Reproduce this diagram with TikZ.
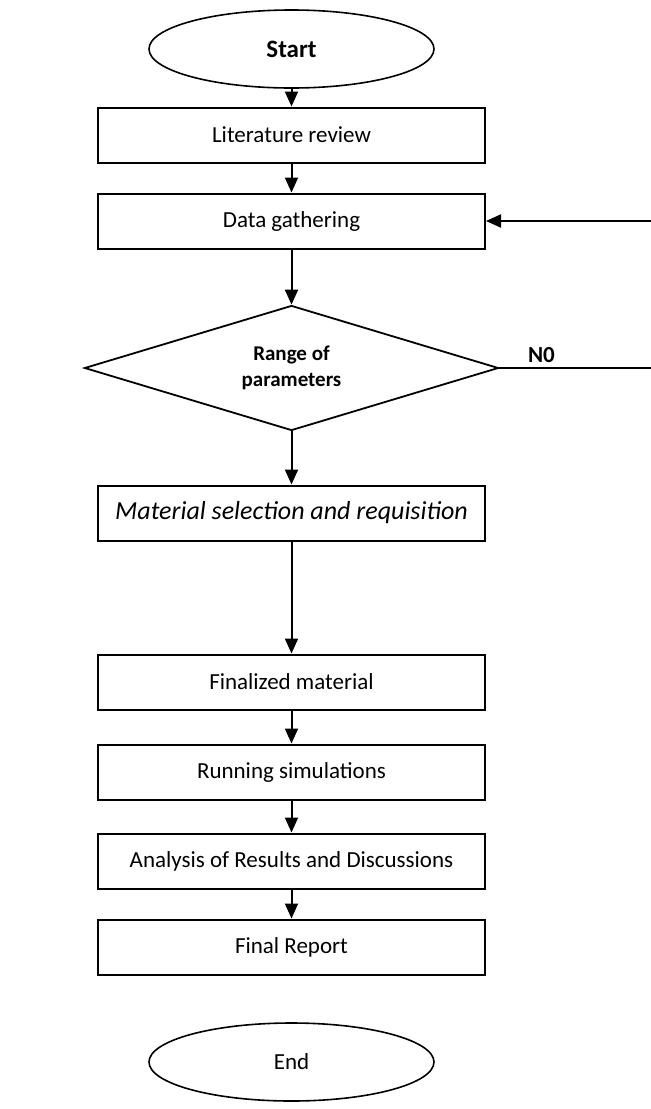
\documentclass[tikz,border=0pt]{standalone}
\usepackage{fontspec}
\setmainfont{Carlito}
\usetikzlibrary{positioning,shapes.geometric,arrows.meta}
\tikzstyle{startstop} = [ellipse, minimum width=142.5pt, minimum height=39pt, text centered, draw=black, line width=0.8pt, font=\fontsize{11.5}{13}\selectfont]
\tikzstyle{process} = [rectangle, minimum width=193.5pt, minimum height=27.5pt, text centered, draw=black, line width=1pt, font=\fontsize{11.5}{13}\selectfont]
\tikzstyle{decision} = [diamond, aspect=3.3, minimum width=207pt, minimum height=62.5pt, inner sep=0pt, align=center, draw=black, line width=0.9pt, font=\bfseries\fontsize{10.5}{13}\selectfont]
\tikzstyle{arrow} = [line width=1pt,-{Triangle[width=6.5pt,length=7.5pt]}]

\begin{document}
\begin{tikzpicture}[node distance=43pt]
\useasboundingbox (0,0) rectangle (325.5pt,-554.5pt);
\node (start) [startstop, font=\bfseries\fontsize{12.5}{13}\selectfont] at (145.75pt,-24.5pt) {Start};
\node (lit) [process, below of=start] {Literature review};
\draw [arrow] (start) -- (lit);
\node (data) [process, below of=lit] {Data gathering};
\draw [arrow] (lit) -- (data);
\node (decide) [decision, below of=data, yshift=-30.5pt] {Range of\\parameters};
\draw [arrow] (data) -- (decide);
\coordinate (loopcorner) at (327.5pt,-184pt);
\draw [arrow] (decide.east) -- node[pos=0.27, above=-1pt, font=\bfseries\fontsize{11.5}{13}\selectfont] {N0} (loopcorner) |- (data.east);
\node (mat) [process, below of=decide, yshift=-29.5pt, font=\itshape\fontsize{13}{15}\selectfont] {Material selection and requisition};
\draw [arrow] (decide) -- (mat);
\node (fin) [process, below of=mat, yshift=-41.5pt] {Finalized material};
\draw [arrow] (mat) -- (fin);
\node (run) [process, below of=fin, yshift=-2pt] {Running simulations};
\draw [arrow] (fin) -- (run);
\node (ana) [process, below of=run, yshift=-1.5pt] {Analysis of Results and Discussions};
\draw [arrow] (run) -- (ana);
\node (rep) [process, below of=ana] {Final Report};
\draw [arrow] (ana) -- (rep);
\node (end) [startstop, below of=rep, yshift=-14.5pt] {End};
\end{tikzpicture}
\end{document}
